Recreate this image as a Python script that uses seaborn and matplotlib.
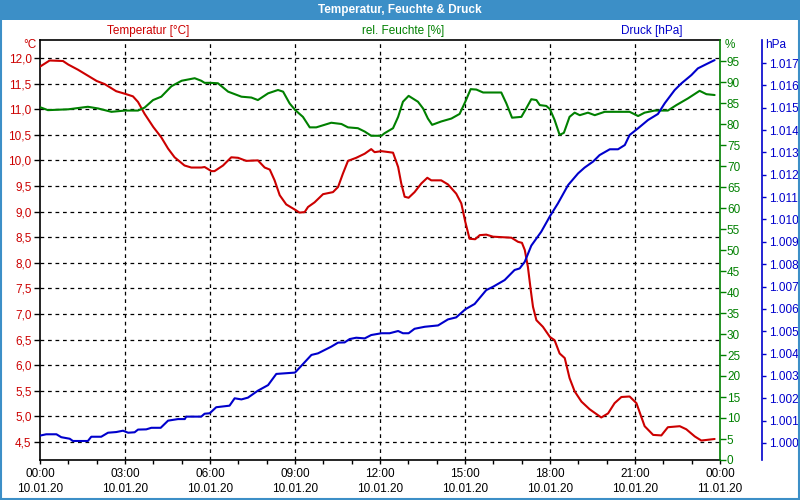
import numpy as np
import seaborn as sns
import matplotlib.pyplot as plt
from matplotlib.patches import Rectangle
from matplotlib.ticker import FixedLocator, FuncFormatter

sns.set_theme(style="white")
plt.rcParams['font.family'] = ['Liberation Sans', 'DejaVu Sans']

# Temperatur [°C]
t_hours = [0, 0.34, 0.81, 1.0, 1.34, 1.58, 2.0, 2.28, 2.69, 3.0, 3.28, 3.46, 3.69, 4.0, 4.28, 4.52,
           4.75, 5.1, 5.34, 5.69, 5.81, 6.05, 6.16, 6.46, 6.75, 6.99, 7.28, 7.69, 7.93, 8.11, 8.28,
           8.46, 8.69, 8.99, 9.16, 9.34, 9.46, 9.69, 9.99, 10.34, 10.52, 10.69, 10.87, 11.16, 11.46,
           11.69, 11.81, 12.05, 12.46, 12.64, 12.75, 12.87, 13.01, 13.22, 13.46, 13.67, 13.81, 14.16,
           14.40, 14.69, 14.87, 15.01, 15.16, 15.36, 15.52, 15.75, 15.99, 16.64, 16.87, 17.01, 17.11,
           17.22, 17.32, 17.40, 17.52, 17.75, 18.0, 18.16, 18.34, 18.52, 18.69, 18.87, 19.11, 19.40,
           19.81, 20.05, 20.28, 20.52, 20.81, 21.05, 21.34, 21.64, 21.93, 22.16, 22.58, 22.81, 23.11,
           23.34, 23.81]
t_values = [11.83, 11.95, 11.94, 11.87, 11.77, 11.69, 11.55, 11.49, 11.35, 11.30, 11.25, 11.14, 10.91,
            10.65, 10.45, 10.23, 10.06, 9.90, 9.86, 9.86, 9.87, 9.79, 9.79, 9.90, 10.06, 10.05, 9.99,
            10.00, 9.86, 9.82, 9.61, 9.32, 9.14, 9.04, 8.98, 8.99, 9.09, 9.18, 9.34, 9.38, 9.48, 9.74,
            9.99, 10.05, 10.13, 10.22, 10.16, 10.18, 10.15, 9.87, 9.55, 9.29, 9.27, 9.38, 9.55, 9.66,
            9.61, 9.61, 9.53, 9.35, 9.16, 8.80, 8.47, 8.46, 8.54, 8.55, 8.51, 8.49, 8.41, 8.39, 8.25,
            7.92, 7.47, 7.14, 6.88, 6.75, 6.55, 6.49, 6.23, 6.14, 5.75, 5.49, 5.29, 5.14, 4.98, 5.06,
            5.26, 5.38, 5.39, 5.26, 4.81, 4.64, 4.63, 4.79, 4.81, 4.75, 4.61, 4.53, 4.56]

# rel. Feuchte [%]
h_hours = [0, 0.28, 1.0, 1.69, 2.05, 2.52, 3.0, 3.46, 3.69, 3.99, 4.28, 4.64, 5.0, 5.46, 5.69, 5.81,
           6.0, 6.28, 6.64, 7.11, 7.46, 7.69, 8.05, 8.40, 8.58, 8.81, 9.01, 9.28, 9.52, 9.75, 10.28,
           10.64, 10.87, 11.22, 11.46, 11.69, 12.05, 12.16, 12.46, 12.64, 12.81, 13.01, 13.34, 13.52,
           13.69, 13.84, 14.16, 14.52, 14.81, 15.01, 15.20, 15.40, 15.64, 16.28, 16.46, 16.66, 16.99,
           17.16, 17.34, 17.52, 17.64, 17.87, 18.0, 18.16, 18.34, 18.49, 18.69, 18.87, 19.05, 19.34,
           19.58, 19.93, 20.81, 21.11, 21.34, 21.69, 22.16, 22.46, 22.87, 23.28, 23.52, 23.81]
h_values = [84.0, 83.3, 83.5, 84.1, 83.7, 82.9, 83.2, 83.2, 83.9, 85.7, 86.5, 89.0, 90.3, 90.9, 90.3,
            89.8, 89.8, 89.7, 87.7, 86.5, 86.3, 85.7, 87.3, 88.1, 87.7, 84.9, 83.3, 81.7, 79.2, 79.2,
            80.3, 80.0, 79.2, 79.0, 78.2, 77.2, 77.2, 77.8, 79.0, 81.7, 85.3, 86.7, 85.3, 83.7, 81.3,
            79.8, 80.6, 81.3, 82.4, 85.3, 88.3, 88.2, 87.5, 87.5, 84.9, 81.5, 81.7, 83.7, 85.9, 85.7,
            84.5, 84.3, 83.5, 81.0, 77.4, 77.9, 81.7, 82.7, 82.1, 82.7, 82.1, 82.9, 82.9, 81.9, 82.7,
            83.2, 83.2, 84.5, 86.1, 87.9, 87.1, 86.9]

# Druck [hPa]
p_hours = [0, 0.22, 0.58, 0.75, 1.05, 1.16, 1.69, 1.81, 2.16, 2.40, 2.69, 2.93, 3.11, 3.34, 3.46,
           3.75, 3.93, 4.26, 4.52, 4.87, 5.11, 5.16, 5.69, 5.81, 5.99, 6.22, 6.69, 6.87, 7.11, 7.34,
           7.69, 8.05, 8.34, 9.0, 9.28, 9.58, 9.81, 10.28, 10.52, 10.75, 10.93, 11.16, 11.46, 11.69,
           12.05, 12.34, 12.64, 12.81, 13.01, 13.22, 13.58, 14.05, 14.40, 14.69, 15.01, 15.34, 15.75,
           15.99, 16.40, 16.75, 16.93, 17.11, 17.34, 17.69, 18.0, 18.28, 18.64, 18.99, 19.22, 19.52,
           19.75, 20.11, 20.40, 20.64, 20.81, 21.11, 21.46, 21.81, 22.05, 22.40, 22.64, 22.99, 23.22,
           23.52, 23.81]
p_values = [1000.33, 1000.39, 1000.39, 1000.26, 1000.19, 1000.09, 1000.09, 1000.28, 1000.28, 1000.46,
            1000.49, 1000.55, 1000.46, 1000.48, 1000.60, 1000.61, 1000.68, 1000.68, 1001.00, 1001.07,
            1001.07, 1001.18, 1001.18, 1001.31, 1001.33, 1001.60, 1001.67, 1002.00, 1001.95, 1002.03,
            1002.34, 1002.59, 1003.09, 1003.15, 1003.53, 1003.94, 1004.01, 1004.31, 1004.49, 1004.50,
            1004.65, 1004.71, 1004.68, 1004.83, 1004.91, 1004.91, 1005.01, 1004.91, 1004.91, 1005.11,
            1005.20, 1005.26, 1005.53, 1005.62, 1005.98, 1006.22, 1006.84, 1006.99, 1007.29, 1007.74,
            1007.81, 1008.11, 1008.83, 1009.45, 1010.15, 1010.72, 1011.54, 1012.06, 1012.32, 1012.59,
            1012.88, 1013.14, 1013.14, 1013.33, 1013.78, 1014.08, 1014.45, 1014.72, 1015.20, 1015.79,
            1016.09, 1016.46, 1016.76, 1016.95, 1017.13]

x_labels = ["00:00\n10.01.20", "03:00\n10.01.20", "06:00\n10.01.20", "09:00\n10.01.20",
            "12:00\n10.01.20", "15:00\n10.01.20", "18:00\n10.01.20", "21:00\n10.01.20",
            "00:00\n11.01.20"]

RED = "#cc0000"
GREEN = "#008000"
BLUE = "#0000cc"
BAR = "#3c8fc7"
FS = 8.5

W, H = 800, 500
fig = plt.figure(figsize=(8, 5), dpi=100)
fig.patch.set_facecolor("white")

# title bar and frame
fig.patches.append(Rectangle((0, 1 - 20 / H), 1, 20 / H, transform=fig.transFigure,
                             facecolor=BAR, edgecolor="none", zorder=0))
fig.patches.append(Rectangle((1 / W, 1 / H), 1 - 2 / W, 1 - 2 / H, transform=fig.transFigure,
                             facecolor="none", edgecolor=BAR, linewidth=1.5, zorder=0))
fig.text(0.5, 1 - 10 / H, "Temperatur, Feuchte & Druck", color="white", fontsize=FS,
         fontweight="bold", ha="center", va="center")

ax = fig.add_axes([40 / W, 40 / H, 680 / W, 420 / H])
ax2 = ax.twinx()
ax3 = ax.twinx()

# temperature axis
sns.lineplot(x=t_hours, y=t_values, ax=ax, color=RED, linewidth=1.5, zorder=5)
ax.set_xlim(0, 24)
ax.set_ylim(4.15, 12.35)
ax.yaxis.set_major_locator(FixedLocator(np.arange(4.5, 12.01, 0.5)))
ax.yaxis.set_major_formatter(FuncFormatter(lambda v, _: f"{v:.1f}".replace(".", ",")))
ax.set_xticks(np.arange(0, 25, 3))
ax.set_xticklabels(x_labels)
ax.set_xticks(np.arange(0, 25, 1), minor=True)
ax.tick_params(axis="x", which="both", direction="out", length=3, width=1, color="black",
               labelsize=FS, labelcolor="black", pad=3, bottom=True)
ax.tick_params(axis="y", direction="out", length=4, width=1, color="black",
               labelsize=FS, labelcolor=RED, pad=2, left=True)
for lbl in ax.get_xticklabels():
    lbl.set_linespacing(1.35)
for v in np.arange(4.5, 12.01, 0.5):
    ax.axhline(v, color="black", linestyle=(0, (3, 3)), linewidth=0.9, zorder=1)
for v in range(3, 24, 3):
    ax.axvline(v, color="black", linestyle=(0, (3, 3)), linewidth=0.9, zorder=1)
for s in ["left", "bottom", "top"]:
    ax.spines[s].set_color("black")
    ax.spines[s].set_linewidth(1.2)
ax.spines["right"].set_visible(False)
ax.set_xlabel("")
ax.set_ylabel("")

# humidity axis
sns.lineplot(x=h_hours, y=h_values, ax=ax2, color=GREEN, linewidth=1.5, zorder=5)
ax2.set_ylim(0, 100)
ax2.set_yticks(np.arange(0, 96, 5))
ax2.tick_params(axis="y", direction="out", length=4, width=1, color=GREEN,
                labelsize=FS, labelcolor=GREEN, pad=1, right=True)
ax2.spines["right"].set_color(GREEN)
ax2.spines["right"].set_linewidth(1.2)
for s in ["left", "bottom", "top"]:
    ax2.spines[s].set_visible(False)
ax2.set_ylabel("")

# pressure axis
sns.lineplot(x=p_hours, y=p_values, ax=ax3, color=BLUE, linewidth=1.5, zorder=5)
ax3.set_ylim(1000 - 17 / 22.35, 1017 + 23 / 22.35)
ax3.set_yticks(np.arange(1000, 1018, 1))
ax3.yaxis.set_major_formatter(FuncFormatter(lambda v, _: f"1.{int(round(v)) - 1000:03d}"))
ax3.spines["right"].set_position(("axes", (762 - 40) / 680))
ax3.spines["right"].set_color(BLUE)
ax3.spines["right"].set_linewidth(1.2)
for s in ["left", "bottom", "top"]:
    ax3.spines[s].set_visible(False)
ax3.tick_params(axis="y", direction="out", length=3, width=1, color=BLUE,
                labelsize=FS, labelcolor=BLUE, pad=2, right=True)
ax3.set_ylabel("")

# series and unit labels
fig.text(148 / W, 1 - 31 / H, "Temperatur [°C]", color=RED, fontsize=FS, ha="center", va="center")
fig.text(403 / W, 1 - 31 / H, "rel. Feuchte [%]", color=GREEN, fontsize=FS, ha="center", va="center")
fig.text(652 / W, 1 - 31 / H, "Druck [hPa]", color=BLUE, fontsize=FS, ha="center", va="center")
fig.text(37 / W, 1 - 45 / H, "°C", color=RED, fontsize=FS, ha="right", va="center")
fig.text(725 / W, 1 - 45 / H, "%", color=GREEN, fontsize=FS, ha="left", va="center")
fig.text(765 / W, 1 - 45 / H, "hPa", color=BLUE, fontsize=FS, ha="left", va="center")

fig.savefig("out.png", dpi=100)
